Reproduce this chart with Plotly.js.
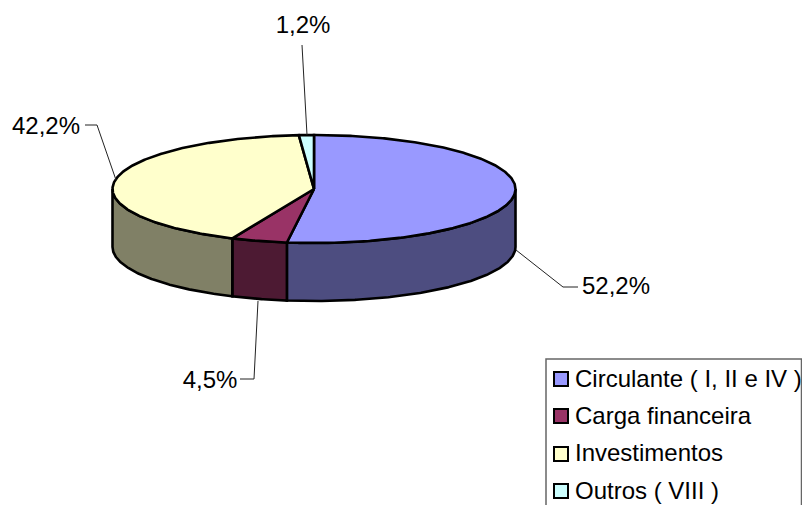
<!DOCTYPE html>
<html><head><meta charset="utf-8">
<script src="https://cdn.plot.ly/plotly-3.0.1.min.js"></script>
<style>html,body{margin:0;padding:0;background:#fff;overflow:hidden}</style>
</head><body><div id="chart" style="width:802px;height:505px"></div>
<script>
// data
const categories = ["Circulante ( I, II e IV )", "Carga financeira", "Investimentos", "Outros ( VIII )"];
const values = [52.2, 4.5, 42.2, 1.2];
const labels = ["52,2%", "4,5%", "42,2%", "1,2%"];
// style
const topColors = ["#9999FF", "#993366", "#FFFFCC", "#CCFFFF"];
const sideColors = ["#4D4D80", "#4D1A33", "#808066", "#668080"];
// layout geometry (page pixels)
const CX = 314, CY = 189, RX = 201.5, RY = 54, DEPTH = 58;
const labelX = [616, 210, 46, 303];
const labelY = [288, 382, 128, 27];
const leaderX = [[516, 563, 578], [258, 254, 240], [116, 97, 85], [307, 302]];
const leaderY = [[250, 287, 287], [301, 379, 379], [180, 125, 125], [135, 45]];
const legendMarkX = 561, legendTextX = 575;
const legendY = [379, 416, 454, 491];
const legendTextY = [381, 418, 455, 493];

const rad = d => d * Math.PI / 180;
const px = a => CX + RX * Math.sin(rad(a));
const py = (a, dz) => CY - RY * Math.cos(rad(a)) + (dz || 0);
function arc(a0, a1, dz) {
  const n = Math.max(2, Math.ceil(Math.abs(a1 - a0) * 2));
  const xs = [], ys = [];
  for (let i = 0; i <= n; i++) {
    const a = a0 + (a1 - a0) * i / n;
    xs.push(px(a)); ys.push(py(a, dz));
  }
  return [xs, ys];
}
const total = values.reduce((s, v) => s + v, 0);
let cum = 0;
const spans = values.map(v => { const a0 = cum / total * 360; cum += v; return [a0, cum / total * 360]; });

const traces = [];
const OUT = {color: "#000", width: 2.6};
// front walls
spans.forEach((s, i) => {
  const a0 = Math.max(s[0], 90), a1 = Math.min(s[1], 270);
  if (a1 <= a0) return;
  const t = arc(a0, a1, 0), b = arc(a1, a0, DEPTH);
  traces.push({type: "scatter", mode: "lines", x: [...t[0], ...b[0], t[0][0]], y: [...t[1], ...b[1], t[1][0]],
    fill: "toself", fillcolor: sideColors[i], line: OUT, hoverinfo: "skip"});
});
// top slices
spans.forEach((s, i) => {
  const t = arc(s[0], s[1], 0);
  traces.push({type: "scatter", mode: "lines", x: [CX, ...t[0], CX], y: [CY, ...t[1], CY],
    fill: "toself", fillcolor: topColors[i], line: OUT,
    name: categories[i], text: labels[i], hoverinfo: "name+text"});
});
// leader lines
leaderX.forEach((lx, i) => traces.push({type: "scatter", mode: "lines", x: lx, y: leaderY[i],
  line: {color: "#222", width: 1}, hoverinfo: "skip"}));
// percent labels
traces.push({type: "scatter", mode: "text", x: labelX, y: labelY, text: labels, textposition: "middle center",
  textfont: {family: "Liberation Sans, Arial, sans-serif", size: 24, color: "#000"}, hoverinfo: "skip", cliponaxis: false});
// legend
traces.push({type: "scatter", mode: "markers", x: legendY.map(() => legendMarkX), y: legendY,
  marker: {symbol: "square", size: 14, color: topColors, line: {color: "#000", width: 2}}, hoverinfo: "skip"});
traces.push({type: "scatter", mode: "text", x: legendY.map(() => legendTextX), y: legendTextY, text: categories,
  textposition: "middle right", textfont: {family: "Liberation Sans, Arial, sans-serif", size: 24, color: "#000"},
  hoverinfo: "skip", cliponaxis: false});

const hidden = {visible: false, fixedrange: true};
Plotly.newPlot("chart", traces, {
  width: 802, height: 505, margin: {l: 0, r: 0, t: 0, b: 0},
  paper_bgcolor: "#fff", plot_bgcolor: "#fff", showlegend: false,
  xaxis: Object.assign({range: [0, 802]}, hidden),
  yaxis: Object.assign({range: [505, 0]}, hidden),
  shapes: [{type: "rect", xref: "x", yref: "y", x0: 546, x1: 801.5, y0: 359, y1: 510,
    line: {color: "#666", width: 1.5}, fillcolor: "rgba(0,0,0,0)", layer: "below"}]
}, {displayModeBar: false});
</script></body></html>
